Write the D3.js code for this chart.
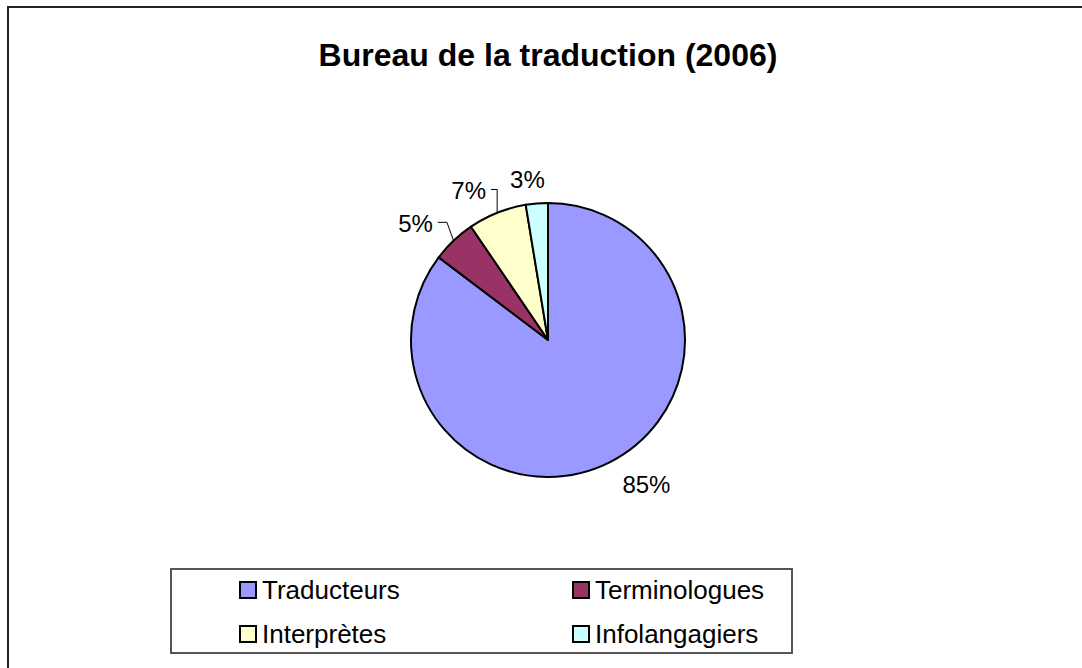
<!DOCTYPE html>
<html lang="fr">
<head>
<meta charset="UTF-8">
<title>Bureau de la traduction (2006)</title>
<script src="https://d3js.org/d3.v7.min.js"></script>
<style>
  body { margin: 0; background: #fff; }
  svg text { font-family: "Liberation Sans", Arial, sans-serif; fill: #000; }
</style>
</head>
<body>
<svg id="chart"></svg>
<script>
// données
const categories = ["Traducteurs", "Terminologues", "Interprètes", "Infolangagiers"];
const values = [85.3, 5.2, 6.9, 2.6];
const colors = ["#9999FF", "#993366", "#FFFFCC", "#CCFFFF"];
const title = "Bureau de la traduction (2006)";

const width = 1082;
const height = 668;
const centerX = 548;
const centerY = 340;
const radius = 137;

const svg = d3.select("#chart").attr("width", width).attr("height", height);

// cadre du graphique
svg.append("rect")
    .attr("x", 8).attr("y", 7)
    .attr("width", width).attr("height", height)
    .attr("fill", "none")
    .attr("stroke", "#222")
    .attr("stroke-width", 2);

svg.append("text")
    .attr("x", centerX).attr("y", 66)
    .attr("text-anchor", "middle")
    .attr("font-size", "32px")
    .attr("font-weight", "bold")
    .text(title);

const data = categories.map((c, i) => ({ name: c, value: values[i], color: colors[i] }));
const total = d3.sum(values);

const pie = d3.pie().sort(null).value(d => d.value);
const arcs = pie(data);
const arc = d3.arc().innerRadius(0).outerRadius(radius);

const g = svg.append("g").attr("transform", `translate(${centerX},${centerY})`);

g.selectAll(".slice")
    .data(arcs)
    .enter().append("path")
    .attr("class", "slice")
    .attr("d", arc)
    .attr("fill", d => d.data.color)
    .attr("stroke", "#000")
    .attr("stroke-width", 2)
    .attr("stroke-linejoin", "round");

// étiquettes de pourcentage (écart horizontal / vertical comme Excel)
const gapX = 30, gapY = 24;
arcs.forEach(d => {
    const mid = (d.startAngle + d.endAngle) / 2;
    const sx = Math.sin(mid), sy = -Math.cos(mid);
    const lx = (radius + gapX) * sx;
    const ly = (radius + gapY) * sy;
    const nearTop = Math.abs(sx) < 0.15;
    const anchor = nearTop ? "middle" : (sx < 0 ? "end" : "start");
    const txt = Math.round(d.data.value / total * 100) + "%";

    g.append("text")
        .attr("x", nearTop ? lx - 7 : lx)
        .attr("y", ly)
        .attr("dy", "0.35em")
        .attr("text-anchor", anchor)
        .attr("font-size", "24px")
        .text(txt);

    // lignes de rappel pour les petites parts à gauche
    if (!nearTop && sx < 0) {
        const ex = radius * sx, ey = radius * sy;
        const x0 = lx + 5;
        const x1 = Math.min(x0 + 9, ex);
        g.append("path")
            .attr("d", `M${x0},${ly - 1}H${x1}L${ex},${ey}`)
            .attr("fill", "none")
            .attr("stroke", "#000")
            .attr("stroke-width", 1);
    }
});

// légende
const legend = svg.append("g");
legend.append("rect")
    .attr("x", 171).attr("y", 569)
    .attr("width", 621).attr("height", 84)
    .attr("fill", "#fff")
    .attr("stroke", "#555")
    .attr("stroke-width", 2);

const colX = [240, 573];
const rowY = [590, 634];
data.forEach((d, i) => {
    const x = colX[i % 2], y = rowY[Math.floor(i / 2)];
    legend.append("rect")
        .attr("x", x).attr("y", y - 8)
        .attr("width", 16).attr("height", 16)
        .attr("fill", d.color)
        .attr("stroke", "#000")
        .attr("stroke-width", 2);
    legend.append("text")
        .attr("x", x + 22).attr("y", y)
        .attr("dy", "0.35em")
        .attr("font-size", "26px")
        .text(d.name);
});
</script>
</body>
</html>
